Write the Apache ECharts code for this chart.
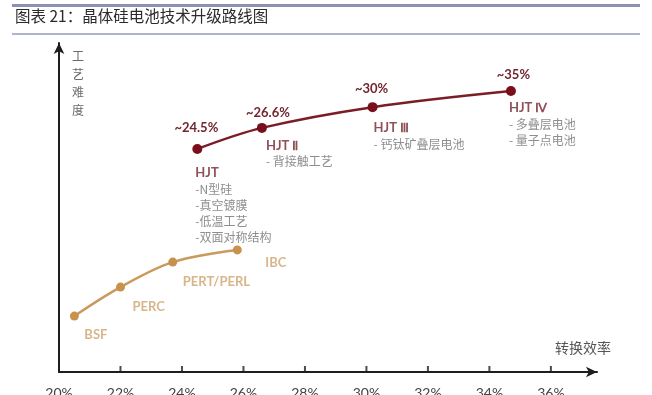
<!DOCTYPE html>
<html>
<head>
<meta charset="utf-8">
<script src="https://cdn.jsdelivr.net/npm/echarts@6/dist/echarts.min.js"></script>
<style>
html,body{margin:0;padding:0;background:#fff;}
#c{width:652px;height:395px;}
</style>
</head>
<body>
<div id="c"></div>
<script>
// ---- data ----
const xTickMin = 20, xTickMax = 36, xTickStep = 2;   // tick labels 20% ... 36%
const xTickMarks = [22, 24, 26, 28, 30, 32, 34, 36];
const oldNames = ['BSF', 'PERC', 'PERT/PERL', 'IBC'];
const oldEff = [20.5, 22.0, 23.7, 25.8];
const oldDiff = [1.70, 2.58, 3.34, 3.71];

const newNames = ['HJT', 'HJT Ⅱ', 'HJT Ⅲ', 'HJT Ⅳ'];
const newPct = ['~24.5%', '~26.6%', '~30%', '~35%'];
const newEff = [24.5, 26.6, 30.2, 34.7];
const newDiff = [6.78, 7.42, 8.05, 8.54];
const newDesc = [
  ['-N型硅', '-真空镀膜', '-低温工艺', '-双面对称结构'],
  ['- 背接触工艺'],
  ['- 钙钛矿叠层电池'],
  ['- 多叠层电池', '- 量子点电池']
];

// ---- label layout (styling, not data) ----
const oldLabelPos = [[14.5, 23.5], [16.5, 24.5], [14.5, 24.5], [32.5, 17.5]];
const pctLabelPos = [[4, -16], [11, -10], [4, -13], [7.5, -11]];
const nameLabelPos = [[3, 21], [9, 15], [6, 18], [3, 14]];

const latin = 'Lato, "Noto Sans", sans-serif';
const cjk = '"Noto Sans CJK SC", sans-serif';

const L = 59, R = 55, AXIS_MAX = 37.5;

const oldData = oldEff.map((x, i) => ({
  value: [x, oldDiff[i]],
  label: { position: oldLabelPos[i] }
}));
const pctData = newEff.map((x, i) => ({
  value: [x, newDiff[i]],
  label: { position: pctLabelPos[i], formatter: newPct[i] }
}));
const nameData = newEff.map((x, i) => ({
  value: [x, newDiff[i]],
  label: {
    position: nameLabelPos[i],
    formatter: '{n|' + newNames[i] + '}\n' + newDesc[i].map(d => '{d|' + d + '}').join('\n')
  }
}));
const tickData = xTickMarks.map(v => [v, 0]);

const chart = echarts.init(document.getElementById('c'));
chart.setOption({
  animation: false,
  backgroundColor: '#fff',
  graphic: [
    { type: 'rect', shape: { x: 12, y: 4, width: 628, height: 3 }, style: { fill: '#8d91b6' } },
    { type: 'rect', shape: { x: 12, y: 33, width: 628, height: 2 }, style: { fill: '#b0b3cf' } },
    { type: 'text', left: 15, top: 8, style: { text: '图表 21：晶体硅电池技术升级路线图', font: '15.5px ' + cjk, fill: '#2b2b2b' } },
    { type: 'text', left: 72, top: 47, style: { text: '工\n艺\n难\n度', font: '12px ' + cjk, fill: '#6a6a6a', lineHeight: 18 } },
    { type: 'text', left: 555, top: 341, style: { text: '转换效率', font: '14px ' + cjk, fill: '#555' } }
  ],
  grid: { left: L, right: R, top: 43, bottom: 23, containLabel: false, outerBounds: { left: -100, right: -100, top: -100, bottom: -100 } },
  xAxis: {
    type: 'value', min: xTickMin, max: AXIS_MAX, interval: xTickStep,
    splitLine: { show: false },
    axisLine: { show: true, lineStyle: { color: '#1e1e1e', width: 2 }, symbol: ['none', 'arrow'], symbolSize: [8, 11] },
    axisTick: { show: false },
    axisLabel: {
      showMaxLabel: false,
      formatter: v => (v > xTickMax ? '' : v + '%'),
      margin: 14, fontSize: 14, color: '#444', fontFamily: latin
    }
  },
  yAxis: {
    type: 'value', min: 0, max: 10,
    splitLine: { show: false },
    axisLine: { show: true, lineStyle: { color: '#1e1e1e', width: 2 }, symbol: ['none', 'arrow'], symbolSize: [8, 11] },
    axisTick: { show: false },
    axisLabel: { show: false }
  },
  series: [
    {
      type: 'scatter', data: tickData, clip: false, silent: true,
      symbol: 'rect', symbolSize: [2, 6], symbolOffset: [0, -3],
      itemStyle: { color: '#1e1e1e' },
      z: 5
    },
    {
      type: 'line', data: oldData, smooth: 0.35,
      symbol: 'circle', symbolSize: 9,
      lineStyle: { color: '#c99a5c', width: 2.5 },
      itemStyle: { color: '#c8924c' },
      label: {
        show: true, formatter: p => oldNames[p.dataIndex],
        align: 'left', verticalAlign: 'middle',
        color: '#d8b68b', fontWeight: 'bold', fontSize: 13, fontFamily: latin
      },
      z: 3
    },
    {
      type: 'line', data: pctData, smooth: 0.35,
      symbol: 'circle', symbolSize: 10,
      lineStyle: { color: '#7b1d25', width: 2.5 },
      itemStyle: { color: '#7a0f1c' },
      label: {
        show: true, align: 'center', verticalAlign: 'middle',
        color: '#73242e', fontWeight: 'bold', fontSize: 13, fontFamily: latin
      },
      z: 4
    },
    {
      type: 'scatter', data: nameData, symbol: 'circle', symbolSize: 10,
      itemStyle: { color: 'rgba(0,0,0,0)' },
      label: {
        show: true, align: 'left', verticalAlign: 'top',
        rich: {
          n: { color: '#73242e', fontWeight: 'bold', fontSize: 13, fontFamily: latin, lineHeight: 16 },
          d: { color: '#707070', fontSize: 12, fontFamily: cjk, lineHeight: 16 }
        }
      },
      z: 2
    }
  ]
});
</script>
</body>
</html>
